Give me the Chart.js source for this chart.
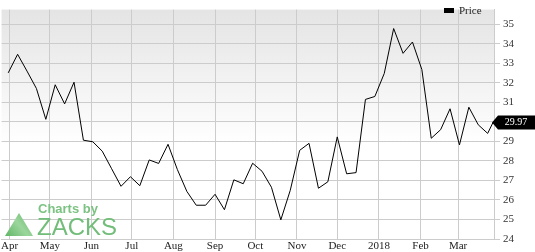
<!DOCTYPE html>
<html>
<head>
<meta charset="utf-8">
<script src="https://cdn.jsdelivr.net/npm/chart.js@4"></script>
<style>
  html, body { margin: 0; padding: 0; background: #fff; }
  #wrap { width: 535px; height: 252px; position: relative; }
</style>
</head>
<body>
<div id="wrap"><canvas id="priceChart" width="535" height="252"></canvas></div>
<script>
// weekly closing prices
const dates = [
  "2017-03-31", "2017-04-07", "2017-04-14", "2017-04-21", "2017-04-28",
  "2017-05-05", "2017-05-12", "2017-05-19", "2017-05-26",
  "2017-06-02", "2017-06-09", "2017-06-16", "2017-06-23", "2017-06-30",
  "2017-07-07", "2017-07-14", "2017-07-21", "2017-07-28",
  "2017-08-04", "2017-08-11", "2017-08-18", "2017-08-25",
  "2017-09-01", "2017-09-08", "2017-09-15", "2017-09-22", "2017-09-29",
  "2017-10-06", "2017-10-13", "2017-10-20", "2017-10-27",
  "2017-11-03", "2017-11-10", "2017-11-17", "2017-11-24",
  "2017-12-01", "2017-12-08", "2017-12-15", "2017-12-22", "2017-12-29",
  "2018-01-05", "2018-01-12", "2018-01-19", "2018-01-26",
  "2018-02-02", "2018-02-09", "2018-02-16", "2018-02-23",
  "2018-03-02", "2018-03-09", "2018-03-16", "2018-03-23", "2018-03-27"
];
const prices = [
  32.51, 33.46, 32.6, 31.71, 30.13,
  31.9, 30.92, 32.03, 29.06,
  28.98, 28.5, 27.6, 26.7, 27.19,
  26.73, 28.05, 27.87, 28.85,
  27.55, 26.44, 25.73, 25.73,
  26.29, 25.5, 27.03, 26.83, 27.88,
  27.47, 26.65, 24.98, 26.49,
  28.54, 28.9, 26.6, 26.93,
  29.23, 27.34, 27.4, 31.15, 31.3,
  32.48, 34.78, 33.51, 34.09,
  32.68, 29.16, 29.6, 30.67,
  28.82, 30.75, 29.85, 29.41, 29.97
];
const monthStarts = [
  "2017-04-01", "2017-05-01", "2017-06-01", "2017-07-01", "2017-08-01", "2017-09-01",
  "2017-10-01", "2017-11-01", "2017-12-01", "2018-01-01", "2018-02-01", "2018-03-01"
];
const monthLabels = ["Apr", "May", "Jun", "Jul", "Aug", "Sep", "Oct", "Nov", "Dec", "2018", "Feb", "Mar"];
const yTicks = [24, 25, 26, 27, 28, 29, 30, 31, 32, 33, 34, 35];
const lastPrice = "29.97";

const start = Date.parse("2017-04-01");
const dayOf = (d) => (Date.parse(d) - start) / 86400000;
const monthDays = monthStarts.map(dayOf);
const points = dates.map((d, i) => ({ x: dayOf(d), y: prices[i] }));

const serif = "'Liberation Serif', 'DejaVu Serif', serif";

// grey-to-white background behind the plot
const bgPlugin = {
  id: "bg",
  beforeDraw(chart) {
    const { ctx, chartArea: a } = chart;
    const g = ctx.createLinearGradient(0, a.top, 0, a.top + 135);
    g.addColorStop(0, "#e4e4e4");
    g.addColorStop(1, "#ffffff");
    ctx.save();
    ctx.fillStyle = g;
    ctx.fillRect(a.left, a.top, a.right - a.left, a.bottom - a.top);
    ctx.restore();
  },
};

// "Charts by ZACKS" watermark
const logoPlugin = {
  id: "logo",
  beforeDatasetsDraw(chart) {
    const ctx = chart.ctx;
    ctx.save();
    const tg = ctx.createLinearGradient(5, 236, 33, 213);
    tg.addColorStop(0, "#5fb565");
    tg.addColorStop(0.5, "#9bd69c");
    tg.addColorStop(1, "#5fb565");
    ctx.fillStyle = tg;
    ctx.beginPath();
    ctx.moveTo(5, 236);
    ctx.lineTo(19, 213);
    ctx.lineTo(33, 236);
    ctx.closePath();
    ctx.fill();

    ctx.fillStyle = "#7cc283";
    ctx.font = "bold 13px 'Liberation Sans', Arial, sans-serif";
    ctx.textBaseline = "alphabetic";
    ctx.fillText("Charts by", 38, 213);
    ctx.fillStyle = "#72bd79";
    ctx.font = "24px 'Liberation Sans', Arial, sans-serif";
    const w = ctx.measureText("ZACKS").width;
    ctx.translate(37, 235);
    ctx.scale(80 / w, 1);
    ctx.fillText("ZACKS", 0, 0);
    ctx.restore();
  },
};

// legend box + last price tag
const overlayPlugin = {
  id: "overlay",
  afterDraw(chart) {
    const ctx = chart.ctx;
    const y = chart.scales.y;
    ctx.save();
    ctx.fillStyle = "#000";
    ctx.fillRect(444, 8, 10, 5);
    ctx.fillStyle = "#222";
    ctx.font = "11px " + serif;
    ctx.textBaseline = "middle";
    ctx.fillText("Price", 459, 11);

    const py = y.getPixelForValue(prices[prices.length - 1]);
    ctx.fillStyle = "#000";
    ctx.beginPath();
    ctx.moveTo(492, py);
    ctx.lineTo(498, py - 7);
    ctx.lineTo(535, py - 7);
    ctx.lineTo(535, py + 7);
    ctx.lineTo(498, py + 7);
    ctx.closePath();
    ctx.fill();
    ctx.fillStyle = "#fff";
    ctx.font = "10px " + serif;
    ctx.textAlign = "center";
    ctx.fillText(lastPrice, 516, py);
    ctx.restore();
  },
};

const ctx = document.getElementById("priceChart").getContext("2d");
const priceChart = new Chart(ctx, {
  type: "line",
  data: {
    datasets: [
      {
        label: "Price",
        data: points,
        borderColor: "#000",
        borderWidth: 1,
        pointRadius: 0,
        tension: 0,
        fill: false,
      },
    ],
  },
  options: {
    responsive: false,
    animation: false,
    layout: { padding: 0 },
    plugins: {
      legend: { display: false },
      tooltip: { enabled: false },
    },
    scales: {
      x: {
        type: "linear",
        min: -8 * 334 / 450,
        max: 486 * 334 / 450,
        afterBuildTicks: (s) => { s.ticks = monthDays.map((v) => ({ value: v })); },
        afterFit: (s) => { s.height = 13; },
        grid: { color: "#cccccc", drawTicks: false },
        border: { color: "#cccccc" },
        ticks: {
          autoSkip: false,
          maxRotation: 0,
          padding: 1,
          color: "#222",
          font: { family: serif, size: 11 },
          callback: (v) => monthLabels[monthDays.indexOf(v)],
        },
      },
      y: {
        position: "right",
        min: 24,
        max: 35.75,
        afterBuildTicks: (s) => { s.ticks = yTicks.map((v) => ({ value: v })); },
        afterFit: (s) => { s.width = 41; },
        grid: { color: "#cccccc", tickLength: 6 },
        border: { color: "#cccccc" },
        ticks: {
          padding: 3,
          color: "#333",
          font: { family: serif, size: 11 },
        },
      },
    },
  },
  plugins: [bgPlugin, logoPlugin, overlayPlugin],
});
</script>
</body>
</html>
